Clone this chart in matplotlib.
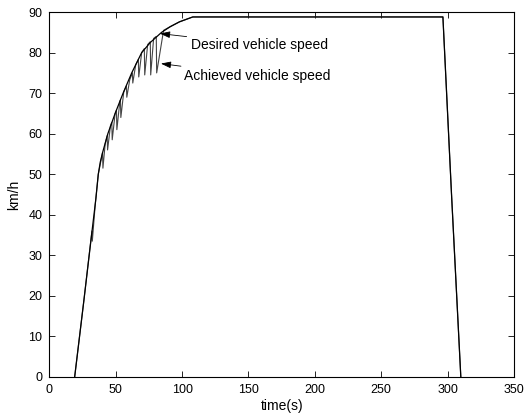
import matplotlib
matplotlib.use("Agg")
import matplotlib.pyplot as plt

plt.rcParams['font.family'] = ['Liberation Sans', 'DejaVu Sans']
plt.rcParams['font.size'] = 9

# desired vehicle speed
t_des = [19, 26, 33, 35, 36.8, 38.3, 40, 44, 49.5, 55.5, 62, 69.5, 76, 84.5, 91, 98, 108,
         296.5, 303, 310]
v_des = [0, 19, 38.5, 44, 50, 53, 55.3, 60, 65, 70, 75, 80, 82.5, 85, 86.4, 87.6, 88.8,
         88.8, 45, 0]

# achieved vehicle speed (drops at gear shifts, then ramps back)
t_ach = [19, 26, 32, 32.3, 34.5, 36.8, 40, 40.3, 42, 43.5, 43.8, 46, 47, 47.3, 49.5,
         50.5, 50.8, 53, 53.5, 53.8, 56, 58, 58.3, 60.5, 62.5, 62.8, 65, 67, 67.3, 69.5,
         71.5, 71.8, 74, 76, 76.3, 78.5, 80.5, 80.8, 86, 91, 98, 108,
         296.5, 303, 310]
v_ach = [0, 19, 36, 33.5, 42.5, 50, 55.3, 51.5, 57.5, 59.5, 56, 62, 62.8, 58.5, 65,
         65.8, 61, 67.8, 68.3, 64, 70.3, 71.8, 69, 73.3, 75, 72.5, 77, 78.3, 74, 80,
         81, 74.5, 82, 82.7, 74.5, 83.5, 84, 75, 85.5, 86.4, 87.6, 88.8,
         88.8, 45, 0]

fig = plt.figure(figsize=(5.26, 4.17), dpi=100)
ax = fig.add_axes([0.094, 0.096, 0.883, 0.875])

ax.plot(t_ach, v_ach, color='#444444', lw=0.8)
ax.plot(t_des, v_des, color='black', lw=0.9)

ax.set_xlim(0, 350)
ax.set_ylim(0, 90)
ax.set_xticks(range(0, 351, 50))
ax.set_yticks(range(0, 91, 10))
ax.tick_params(direction='in', top=True, right=True, length=4, width=0.6, pad=5)
for s in ax.spines.values():
    s.set_linewidth(0.8)

ax.set_xlabel('time(s)', labelpad=2, fontsize=10)
ax.set_ylabel('km/h', labelpad=5, fontsize=10)

arrow = dict(arrowstyle='-|>,head_length=0.6,head_width=0.2', color='black', lw=0.6,
             shrinkA=1, shrinkB=0)
ax.annotate('Desired vehicle speed', xy=(83.3, 84.7), xytext=(106.5, 81.9),
            ha='left', va='center', fontsize=10, arrowprops=arrow)
ax.annotate('Achieved vehicle speed', xy=(84, 77.3), xytext=(101.5, 74.2),
            ha='left', va='center', fontsize=10, arrowprops=arrow)

fig.savefig('out.png', dpi=100)
